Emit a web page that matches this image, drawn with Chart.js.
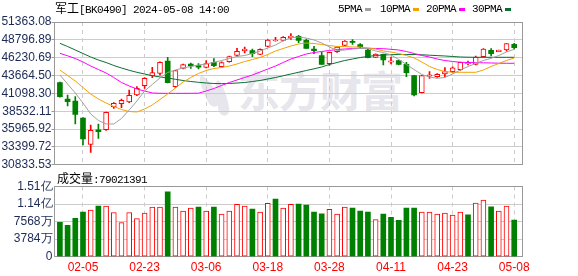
<!DOCTYPE html>
<html><head><meta charset="utf-8">
<script src="https://cdn.jsdelivr.net/npm/chart.js@4.4.1/dist/chart.umd.min.js"></script>
<style>
html,body{margin:0;padding:0;background:#fff;width:578px;height:276px;overflow:hidden;position:relative;}
canvas{position:absolute;left:0;}
.t{position:absolute;white-space:nowrap;color:#000;line-height:14px;}
.cjk{font-family:"Noto Sans CJK SC",sans-serif;font-size:12px;}
.mono{font-family:"Liberation Mono",monospace;font-size:11px;letter-spacing:-0.6px;}
.sw{position:absolute;width:6px;height:3px;}
#wm{position:absolute;left:238px;top:67px;font-family:"Noto Sans CJK SC",sans-serif;font-weight:bold;font-size:42px;line-height:44px;color:#e6e6ec;letter-spacing:-1px;}
.leaf{position:absolute;background:#e6e6ec;border-radius:50% 50% 50% 50% / 80% 80% 20% 20%;}
</style></head><body>
<div class="leaf" style="left:203px;top:74px;width:12px;height:34px;transform:rotate(-28deg)"></div>
<div class="leaf" style="left:216px;top:80px;width:11px;height:36px;transform:rotate(-12deg)"></div>
<div id="wm">东方财富</div>
<canvas id="k" width="578" height="176" style="top:0"></canvas>
<canvas id="v" width="578" height="100" style="top:176px"></canvas>
<div class="t" style="left:55px;top:1px"><span class="cjk">军工</span><span class="mono">[BK0490] 2024-05-08 14:00</span></div>
<div class="t mono" style="left:338px;top:2px">5PMA</div><div class="sw" style="left:365px;top:8px;background:#a0a0a0"></div>
<div class="t mono" style="left:380px;top:2px">10PMA</div><div class="sw" style="left:413px;top:8px;background:#f5a000"></div>
<div class="t mono" style="left:426px;top:2px">20PMA</div><div class="sw" style="left:459px;top:8px;background:#ff00ff"></div>
<div class="t mono" style="left:472px;top:2px">30PMA</div><div class="sw" style="left:505px;top:8px;background:#0a6e32"></div>
<div class="t" style="left:57px;top:171px"><span class="cjk">成交量</span><span class="mono">:79021391</span></div>
<script>
const dates = ['01-31','02-01','02-02','02-05','02-06','02-07','02-08','02-19','02-20','02-21','02-22','02-23','02-26','02-27','02-28','02-29','03-01','03-04','03-05','03-06','03-07','03-08','03-11','03-12','03-13','03-14','03-15','03-18','03-19','03-20','03-21','03-22','03-25','03-26','03-27','03-28','03-29','04-01','04-02','04-03','04-08','04-09','04-10','04-11','04-12','04-15','04-16','04-17','04-18','04-19','04-22','04-23','04-24','04-25','04-26','04-29','04-30','05-06','05-07','05-08'];
const tickLabels = ['02-05','02-23','03-06','03-18','03-28','04-11','04-23','05-08'];
const priceTicks = [30833.53,33399.72,35965.92,38532.11,41098.30,43664.50,46230.69,48796.89,51363.08];
const volTicks = [0,37840000,75680000,113520000,151360000];
const volTickLabels = ['0','3784万','7568万','1.14亿','1.51亿'];

const open  = [42631,40286,39998,37552,33769,35850,35869,39135,39610,39854,40861,42199,43595,43983,45752,42055,44702,45300,45100,44846,45565,44933,45652,46572,47250,47234,46716,47867,48630,48730,49104,49306,48730,47450,46515,45364,47090,48011,48600,48097,47335,46285,46716,45600,45796,45278,43638,41192,43560,43494,43882,44213,44501,45330,45278,46371,47292,47090,47335,48155];
const high  = [42720,40861,40616,37600,36545,36689,38400,39753,40286,41581,42055,43350,44846,45650,46285,44400,45300,45465,45370,45796,46083,45650,46450,47579,47750,47479,47500,48850,49160,49250,49680,49450,48900,47867,47004,47050,47800,48700,48817,48250,47550,46800,46750,46328,45900,45565,43700,43700,44213,43950,44789,44900,45600,45752,46450,47550,47522,47340,48250,48300];
const low   = [40560,39279,36689,33668,32618,34632,35780,38948,39034,39774,40760,41825,43350,43700,42600,41950,44600,44702,44600,44750,44930,44900,45600,46371,46900,46371,46650,47800,48600,48650,48874,48400,47550,46803,45250,45100,47000,47950,48155,47600,46200,46250,45177,45321,45200,43499,40717,41150,43264,43400,43494,44100,44400,45180,45200,46300,46472,47090,47150,47500];
const close = [40616,39897,38085,34531,35783,35600,38372,39667,40099,40818,41825,43264,44069,45565,42631,44357,45220,45050,44870,45364,45076,45508,46371,47148,47450,46803,47435,48774,48774,49162,49349,48730,47579,47250,45278,47004,47767,48630,48420,47767,46227,46759,45896,45780,45278,44069,40861,43638,43760,43839,44213,44767,45565,45530,46328,47479,46803,47335,48241,47666];

const ma5  = [43738,42444,41149,39710,38128,37193,36689,36689,37481,38703,39998,41437,42372,43307,44098,44458,44745,44961,45177,45321,45566,45824,46112,46400,46544,46831,47191,47623,48054,48650,49100,49200,49050,48774,48342,47767,47263,47335,47479,47551,47551,47191,46975,46616,45968,45249,44529,43810,43451,43264,43379,43882,44458,44961,45393,45824,46141,46544,47047,47436];
const ma10 = [44458,43666,42875,41940,41005,40286,39710,39207,38775,38488,38416,38847,39423,40214,41005,41868,42731,43379,43954,44386,44673,44817,45033,45321,45681,45968,46256,46688,47191,47551,47910,48198,48342,48270,48126,47982,47838,47838,47767,47767,47623,47479,47191,47047,46831,46544,46184,45609,44961,44529,44242,44127,44127,44127,44127,44458,44961,45393,45824,46184];
const ma20 = [46860,46500,46112,45609,45033,44529,44026,43379,42659,42156,41724,41437,41149,41106,41100,41095,41100,41106,41120,41437,41796,42228,42659,43019,43379,43738,44170,44601,45033,45537,46040,46400,46759,46975,47119,47263,47407,47479,47551,47580,47580,47551,47522,47436,47335,47119,46831,46544,46328,46040,45824,45681,45566,45537,45508,45494,45465,45436,45422,45422];
const ma30 = [48299,47838,47335,46831,46328,45896,45537,45105,44745,44414,44127,43882,43638,43451,43307,43120,42947,42803,42688,42587,42516,42500,42516,42587,42659,42803,42947,43163,43379,43624,43882,44127,44386,44630,44889,45249,45537,45824,46040,46256,46400,46544,46616,46659,46688,46688,46688,46645,46587,46530,46472,46400,46328,46299,46285,46285,46285,46285,46285,46285];

// volume in 万 (10^4 shares); last value from the label 79021391
const volWan = [7423,6768,8296,9606,10042,10916,10916,9533,7350,9533,8223,9387,10697,10697,13972,10697,9824,10479,10697,9824,10697,9169,9824,11279,10916,10261,9606,11498,12444,10479,11279,11352,11134,9606,9242,10188,9169,10697,10479,9824,9606,8005,9169,8514,7859,10479,10479,9606,9606,9169,9387,8951,9606,9024,11570,12225,10770,9824,10916,7902.1391];
const volRise = [0,0,0,0,1,0,1,1,1,1,1,1,1,1,0,1,1,1,0,1,0,1,1,1,1,0,1,1,0,1,1,0,0,0,0,1,1,1,0,0,0,1,0,0,0,0,0,1,1,1,1,1,1,0,1,1,0,1,1,0];

const RED = '#ff0000', GREEN = '#008000', GRID = '#cccccc', FRAME = '#999999', AXT = '#1c2a55';
const tickPos = tickLabels.map(l => dates.indexOf(l));
const XMIN = -0.7, XMAX = 60.05;

Chart.defaults.font.family = '"Liberation Sans", Arial, sans-serif';
Chart.defaults.font.size = 12;

const frame = {
  id: 'frame',
  beforeDatasetsDraw(c) {
    const {ctx, chartArea: a} = c;
    ctx.save();
    ctx.strokeStyle = FRAME; ctx.lineWidth = 1;
    const l = Math.floor(a.left) + 0.5, t = Math.floor(a.top) + 0.5, r = Math.floor(a.right) + 0.5, b = Math.floor(a.bottom) + 0.5;
    ctx.strokeRect(l, t, r - l, b - t);
    ctx.restore();
  }
};

const isUp = i => close[i] >= open[i];
const lineDs = (label, arr, color) => ({
  type: 'line', label, data: arr.map((v, i) => ({x: i, y: v})),
  borderColor: color, borderWidth: 1, pointRadius: 0, tension: 0, order: 0
});

new Chart(document.getElementById('k'), {
  type: 'bar',
  data: {
    datasets: [
      lineDs('5PMA', ma5, '#a0a0a0'),
      lineDs('10PMA', ma10, '#f5a000'),
      lineDs('20PMA', ma20, '#ff00ff'),
      lineDs('30PMA', ma30, '#0a6e32'),
      {
        label: 'body', order: 1, grouped: false, barThickness: 5, borderSkipped: false,
        data: open.map((o, i) => ({x: i, y: [o, close[i]]})),
        backgroundColor: open.map((o, i) => isUp(i) ? '#ffffff' : GREEN),
        borderColor: open.map((o, i) => isUp(i) ? RED : GREEN),
        borderWidth: open.map((o, i) => isUp(i) ? 1 : 0)
      },
      {
        label: 'wick', order: 2, grouped: false, barThickness: 1, borderSkipped: false,
        data: low.map((l, i) => ({x: i, y: [l, high[i]]})),
        backgroundColor: open.map((o, i) => isUp(i) ? RED : GREEN),
        borderWidth: 0
      }
    ]
  },
  options: {
    responsive: false, animation: false, devicePixelRatio: 1,
    layout: {padding: {left: 0, right: 55.7, top: 22, bottom: 11.3}},
    plugins: {legend: {display: false}, tooltip: {enabled: false}},
    scales: {
      x: {
        type: 'linear', min: XMIN, max: XMAX, offset: false,
        afterBuildTicks: s => { s.ticks = tickPos.map(v => ({value: v})); },
        afterFit: s => { s.height = 0; },
        ticks: {display: false, autoSkip: false},
        grid: {color: GRID, drawTicks: false, offset: false},
        border: {display: false, dash: [4, 4]}
      },
      y: {
        min: priceTicks[0], max: priceTicks[priceTicks.length - 1],
        afterBuildTicks: s => { s.ticks = priceTicks.map(v => ({value: v})); },
        afterFit: s => { s.width = 54.5; },
        ticks: {color: AXT, padding: 0, autoSkip: false, callback: v => Number(v).toFixed(2)},
        grid: {color: GRID, tickLength: 3, tickColor: FRAME},
        border: {display: false}
      }
    }
  },
  plugins: [frame]
});

new Chart(document.getElementById('v'), {
  type: 'bar',
  data: {
    datasets: [{
      label: 'vol', grouped: false, barThickness: 5, borderSkipped: false,
      data: volWan.map((v, i) => ({x: i, y: v * 10000})),
      backgroundColor: volRise.map(r => r ? '#ffffff' : GREEN),
      borderColor: volRise.map(r => r ? RED : GREEN),
      borderWidth: volRise.map(r => r ? 1 : 0)
    }]
  },
  options: {
    responsive: false, animation: false, devicePixelRatio: 1,
    layout: {padding: {left: 0, right: 55.7, top: 10.5, bottom: 0}},
    plugins: {legend: {display: false}, tooltip: {enabled: false}},
    scales: {
      x: {
        type: 'linear', min: XMIN, max: XMAX, offset: false,
        afterBuildTicks: s => { s.ticks = tickPos.map(v => ({value: v})); },
        afterFit: s => { s.height = 19.3; },
        ticks: {color: RED, padding: 4, autoSkip: false, maxRotation: 0, callback: v => dates[v]},
        grid: {color: GRID, drawTicks: false, offset: false},
        border: {display: false, dash: [4, 4]}
      },
      y: {
        min: volTicks[0], max: volTicks[volTicks.length - 1],
        afterBuildTicks: s => { s.ticks = volTicks.map(v => ({value: v})); },
        afterFit: s => { s.width = 54.5; },
        ticks: {color: AXT, padding: 2, autoSkip: false, callback: (v, i) => volTickLabels[i]},
        grid: {color: GRID, drawTicks: false},
        border: {display: false}
      }
    }
  },
  plugins: [frame]
});
</script>
</body></html>
